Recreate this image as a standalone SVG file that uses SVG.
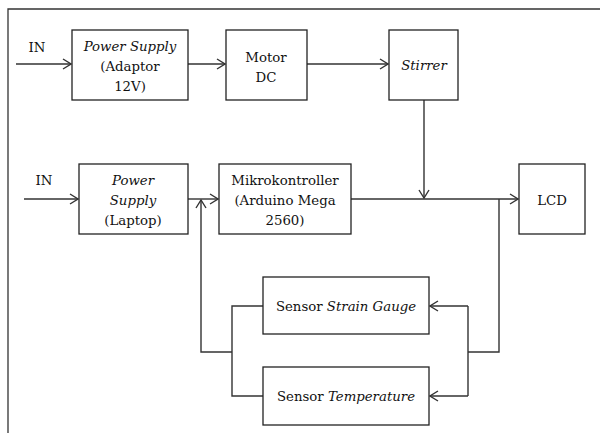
<svg xmlns="http://www.w3.org/2000/svg" width="600" height="433" viewBox="0 0 600 433">
<style>
.box{fill:#fff;stroke:#222;stroke-width:1.3}
.ln{fill:none;stroke:#333;stroke-width:1.4}
text{font-family:'DejaVu Serif',serif;font-size:13.3px;fill:#111;text-anchor:middle}
.i{font-style:italic}
</style>
<defs>
<marker id="ah" markerWidth="10" markerHeight="12" refX="9" refY="6" orient="auto" markerUnits="userSpaceOnUse">
<path d="M1,1 L9,6 L1,11" fill="none" stroke="#333" stroke-width="1.4"/>
</marker>
</defs>
<rect width="600" height="433" fill="#fff"/>
<path d="M8,433 V9 H600" fill="none" stroke="#333" stroke-width="1.3"/>
<g id="connectors">
<line class="ln" x1="16" y1="64" x2="71" y2="64" marker-end="url(#ah)"/>
<line class="ln" x1="188" y1="64" x2="225" y2="64" marker-end="url(#ah)"/>
<line class="ln" x1="307" y1="64" x2="388" y2="64" marker-end="url(#ah)"/>
<line class="ln" x1="424" y1="100" x2="424" y2="198" marker-end="url(#ah)"/>
<line class="ln" x1="24" y1="199" x2="78" y2="199" marker-end="url(#ah)"/>
<line class="ln" x1="188" y1="199" x2="218" y2="199" marker-end="url(#ah)"/>
<line class="ln" x1="351" y1="199" x2="518" y2="199" marker-end="url(#ah)"/>
<path class="ln" d="M232,352 H201 V200" marker-end="url(#ah)"/>
<path class="ln" d="M263,306 H232 V396 H263"/>
<path class="ln" d="M499,199 V352 H468"/>
<path class="ln" d="M468,306 V396"/>
<line class="ln" x1="468" y1="306" x2="430" y2="306" marker-end="url(#ah)"/>
<line class="ln" x1="468" y1="396" x2="430" y2="396" marker-end="url(#ah)"/>
<text x="37" y="52">IN</text>
<text x="44" y="185">IN</text>
</g>
<g id="ps-adaptor">
<rect class="box" x="72" y="30" width="116" height="70"/>
<text class="i" x="130" y="51">Power Supply</text>
<text x="130" y="71">(Adaptor</text>
<text x="130" y="91">12V)</text>
</g>
<g id="motor-dc">
<rect class="box" x="226" y="30" width="81" height="70"/>
<text x="266" y="62">Motor</text>
<text x="266" y="82">DC</text>
</g>
<g id="stirrer">
<rect class="box" x="389" y="30" width="69" height="70"/>
<text class="i" x="424" y="70">Stirrer</text>
</g>
<g id="ps-laptop">
<rect class="box" x="79" y="164" width="109" height="70"/>
<text class="i" x="133" y="185">Power</text>
<text class="i" x="133" y="205">Supply</text>
<text x="133" y="225">(Laptop)</text>
</g>
<g id="mikrokontroller">
<rect class="box" x="219" y="164" width="132" height="70"/>
<text x="285" y="185">Mikrokontroller</text>
<text x="285" y="205">(Arduino Mega</text>
<text x="285" y="225">2560)</text>
</g>
<g id="lcd">
<rect class="box" x="519" y="164" width="66" height="70"/>
<text x="552" y="205">LCD</text>
</g>
<g id="sensor-strain">
<rect class="box" x="263" y="277" width="166" height="57"/>
<text x="346" y="311">Sensor <tspan class="i">Strain Gauge</tspan></text>
</g>
<g id="sensor-temp">
<rect class="box" x="263" y="367" width="166" height="58"/>
<text x="346" y="401">Sensor <tspan class="i">Temperature</tspan></text>
</g>
</svg>
